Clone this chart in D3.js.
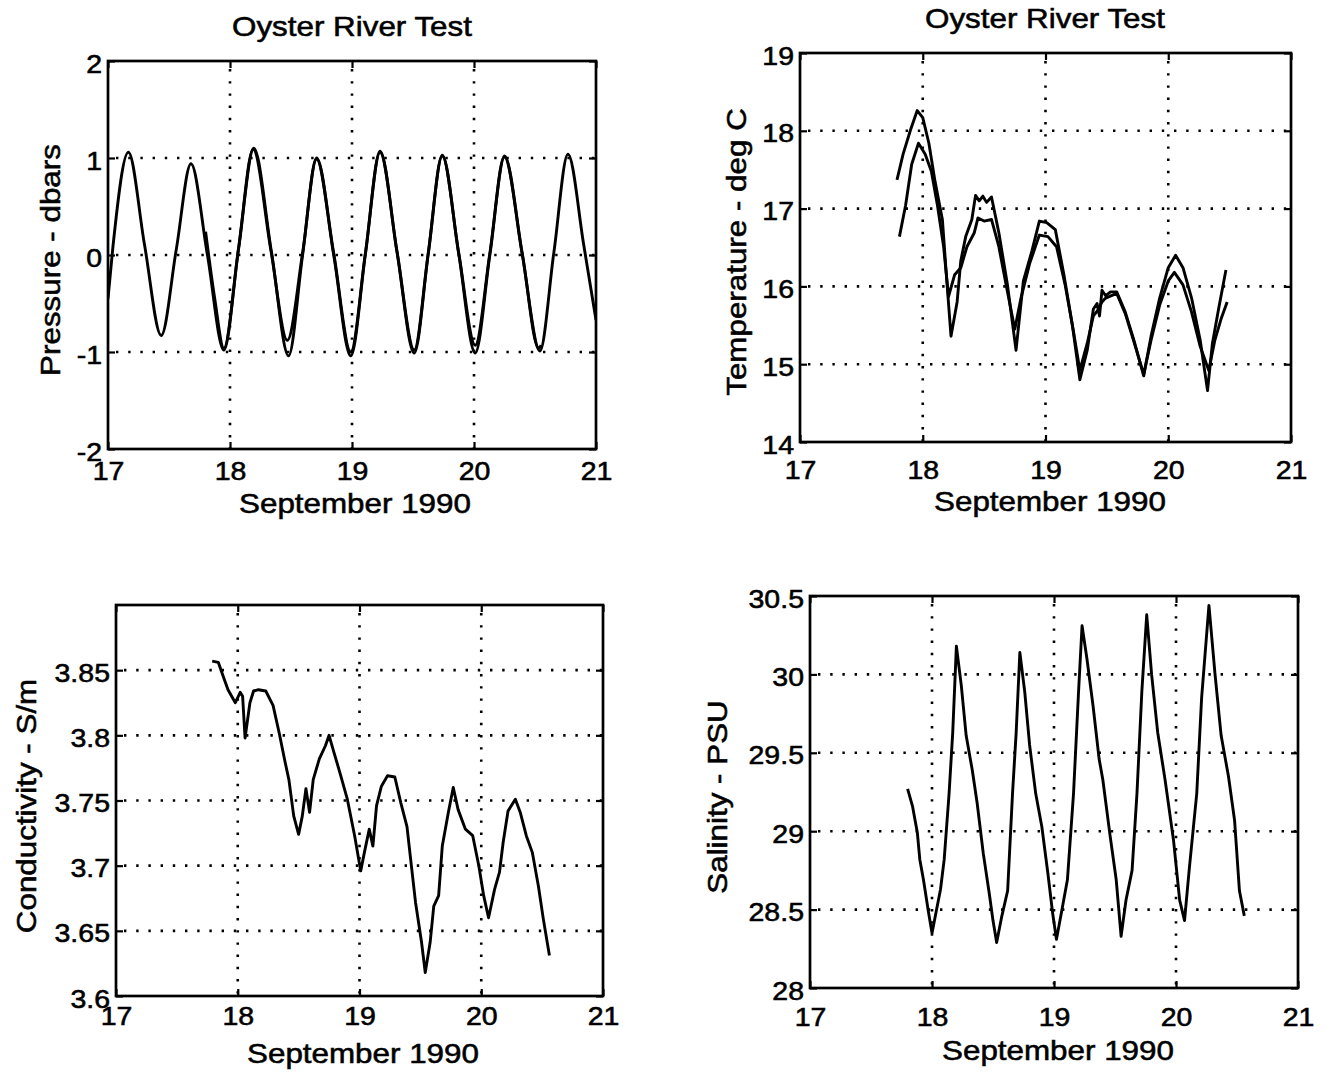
<!DOCTYPE html>
<html><head><meta charset="utf-8">
<script src="https://cdn.jsdelivr.net/npm/d3@7"></script>
<style>html,body{margin:0;padding:0;background:#fff}svg{display:block}</style>
</head><body>
<svg id="chart" width="1326" height="1078"></svg>
<script>
// ---------------- DATA ----------------
const dayTicks = [17, 18, 19, 20, 21];
const dayTickLabels = ["17", "18", "19", "20", "21"];
const xAxisLabel = "September 1990";
const titleText = "Oyster River Test";

const pressureTicks = [-2, -1, 0, 1, 2];
const pressureTickLabels = ["-2", "-1", "0", "1", "2"];
const temperatureTicks = [14, 15, 16, 17, 18, 19];
const temperatureTickLabels = ["14", "15", "16", "17", "18", "19"];
const conductivityTicks = [3.6, 3.65, 3.7, 3.75, 3.8, 3.85];
const conductivityTickLabels = ["3.6", "3.65", "3.7", "3.75", "3.8", "3.85"];
const salinityTicks = [28, 28.5, 29, 29.5, 30, 30.5];
const salinityTickLabels = ["28", "28.5", "29", "29.5", "30", "30.5"];

// [day of September 1990, value]
const pressureA = [[17.00,-0.45],[17.04,0.08],[17.167,1.06],[17.30,0.10],[17.436,-0.83],[17.56,0.06],[17.68,0.94],[17.815,0.0],[17.95,-0.98],[18.07,0.06],[18.195,1.10],[18.34,0.03],[18.48,-1.04],[18.595,0.0],[18.71,0.99],[18.85,0.0],[18.99,-1.04],[19.11,0.01],[19.23,1.06],[19.37,0.02],[19.51,-1.01],[19.625,0.01],[19.74,1.02],[19.875,0.01],[20.01,-1.01],[20.13,0.0],[20.25,1.01],[20.395,0.01],[20.54,-0.99],[20.655,0.03],[20.77,1.04],[20.90,0.10],[21.0,-0.67]];
const pressureB = [[17.80,0.24],[17.875,-0.45],[17.95,-0.96],[18.07,0.07],[18.19,1.09],[18.335,0.05],[18.47,-0.88],[18.595,0.02],[18.71,1.00],[18.85,0.02],[18.99,-1.00],[19.11,0.02],[19.23,1.07],[19.37,0.03],[19.51,-0.98],[19.625,0.02],[19.74,1.03],[19.875,0.02],[20.01,-0.93],[20.13,0.02],[20.25,1.02],[20.395,0.02],[20.53,-0.96],[20.55,-0.93]];

const temperatureA = [[17.79,17.37],[17.84,17.70],[17.90,18.01],[17.955,18.26],[18.0,18.17],[18.05,17.84],[18.10,17.35],[18.16,16.86],[18.19,16.20],[18.23,15.36],[18.28,15.80],[18.31,16.33],[18.35,16.64],[18.40,16.86],[18.43,17.17],[18.46,17.10],[18.49,17.16],[18.52,17.08],[18.56,17.15],[18.62,16.69],[18.69,16.02],[18.76,15.18],[18.82,16.07],[18.89,16.46],[18.95,16.84],[19.01,16.82],[19.08,16.73],[19.15,16.15],[19.22,15.49],[19.28,14.80],[19.34,15.18],[19.39,15.71],[19.42,15.78],[19.44,15.62],[19.46,15.95],[19.49,15.88],[19.53,15.93],[19.58,15.93],[19.65,15.67],[19.72,15.31],[19.80,14.85],[19.86,15.36],[19.93,15.85],[20.0,16.24],[20.06,16.40],[20.12,16.24],[20.19,15.85],[20.26,15.31],[20.32,14.66],[20.36,15.27],[20.41,15.71],[20.47,16.21]];
const temperatureB = [[17.81,16.64],[17.86,17.04],[17.91,17.57],[17.965,17.84],[18.02,17.70],[18.07,17.48],[18.12,17.04],[18.17,16.51],[18.21,15.87],[18.26,16.15],[18.31,16.24],[18.36,16.51],[18.42,16.69],[18.45,16.88],[18.50,16.84],[18.56,16.86],[18.62,16.51],[18.69,15.93],[18.75,15.45],[18.80,15.85],[18.87,16.29],[18.95,16.66],[19.02,16.64],[19.09,16.51],[19.16,16.02],[19.23,15.40],[19.28,14.92],[19.34,15.27],[19.39,15.62],[19.43,15.70],[19.46,15.80],[19.49,15.85],[19.58,15.91],[19.65,15.65],[19.72,15.29],[19.80,14.87],[19.86,15.31],[19.93,15.76],[20.0,16.07],[20.05,16.18],[20.12,16.02],[20.19,15.67],[20.26,15.23],[20.33,14.92],[20.38,15.31],[20.43,15.58],[20.48,15.80]];

const conductivity = [[17.79,3.857],[17.84,3.856],[17.87,3.848],[17.92,3.835],[17.98,3.825],[18.02,3.833],[18.04,3.830],[18.06,3.798],[18.10,3.825],[18.13,3.834],[18.17,3.835],[18.23,3.834],[18.29,3.823],[18.34,3.802],[18.39,3.779],[18.42,3.766],[18.46,3.738],[18.50,3.724],[18.53,3.738],[18.56,3.759],[18.59,3.741],[18.62,3.766],[18.67,3.782],[18.72,3.792],[18.75,3.800],[18.79,3.787],[18.84,3.771],[18.90,3.751],[18.96,3.723],[19.01,3.696],[19.04,3.710],[19.08,3.728],[19.11,3.715],[19.14,3.746],[19.18,3.761],[19.23,3.769],[19.29,3.768],[19.34,3.748],[19.39,3.730],[19.42,3.705],[19.46,3.672],[19.51,3.641],[19.54,3.618],[19.58,3.641],[19.61,3.669],[19.65,3.677],[19.68,3.715],[19.73,3.741],[19.77,3.760],[19.81,3.743],[19.87,3.728],[19.93,3.723],[19.98,3.700],[20.02,3.677],[20.06,3.660],[20.11,3.682],[20.15,3.695],[20.18,3.718],[20.22,3.742],[20.28,3.751],[20.32,3.741],[20.37,3.723],[20.42,3.710],[20.47,3.684],[20.51,3.659],[20.56,3.631]];

const salinity = [[17.80,29.27],[17.84,29.16],[17.88,28.99],[17.90,28.82],[17.93,28.69],[17.97,28.49],[18.0,28.35],[18.03,28.47],[18.07,28.63],[18.10,28.82],[18.14,29.24],[18.17,29.63],[18.20,30.18],[18.24,29.93],[18.28,29.61],[18.33,29.39],[18.37,29.18],[18.42,28.86],[18.47,28.60],[18.50,28.43],[18.53,28.29],[18.57,28.45],[18.62,28.62],[18.66,29.24],[18.69,29.63],[18.72,30.14],[18.76,29.89],[18.80,29.55],[18.85,29.24],[18.90,29.03],[18.95,28.73],[18.99,28.47],[19.02,28.31],[19.07,28.52],[19.11,28.69],[19.16,29.24],[19.20,29.87],[19.23,30.31],[19.27,30.10],[19.32,29.80],[19.37,29.46],[19.40,29.33],[19.46,28.97],[19.51,28.69],[19.55,28.33],[19.59,28.56],[19.64,28.75],[19.68,29.24],[19.72,29.89],[19.76,30.38],[19.80,30.00],[19.85,29.63],[19.91,29.33],[19.98,28.94],[20.03,28.56],[20.07,28.43],[20.11,28.77],[20.17,29.24],[20.21,29.85],[20.27,30.44],[20.32,30.00],[20.37,29.61],[20.43,29.35],[20.48,29.07],[20.52,28.62],[20.56,28.46]];

// ---------------- LAYOUT / STYLE ----------------
const FONT = "'Liberation Sans', Arial, Helvetica, sans-serif";
const TICK_FS = 25, TICK_STRETCH = 1.14;
const LABEL_FS = 28, LABEL_STRETCH = 1.12;
const TEXT_STROKE = 0.55;

const svg = d3.select("#chart");

function stretch(sel, f) {
  sel.each(function () {
    const l = this.getComputedTextLength();
    this.setAttribute("textLength", l * f);
    this.setAttribute("lengthAdjust", "spacingAndGlyphs");
  });
}

const panels = [
  { box: {x0:108, x1:596, y0:61, y1:449}, yDomain: [-2, 2], yTicks: pressureTicks, yLabels: pressureTickLabels,
    series: [pressureA, pressureB], curve: d3.curveMonotoneX, ylabel: "Pressure - dbars",
    title: true, titlePos: [352, 36], ylabelPos: [60, 260], xlabelPos: [355, 513], xPad: 13 },
  { box: {x0:800, x1:1291, y0:53, y1:442}, yDomain: [14, 19], yTicks: temperatureTicks, yLabels: temperatureTickLabels,
    series: [temperatureA, temperatureB], curve: d3.curveLinear, ylabel: "Temperature - deg C",
    title: true, titlePos: [1045, 28], ylabelPos: [746, 252], xlabelPos: [1050, 511], xPad: 19 },
  { box: {x0:116, x1:603, y0:605, y1:996}, yDomain: [3.6, 3.9], yTicks: conductivityTicks, yLabels: conductivityTickLabels,
    series: [conductivity], curve: d3.curveLinear, ylabel: "Conductivity - S/m",
    title: false, ylabelPos: [36, 806], xlabelPos: [363, 1063], xPad: 11 },
  { box: {x0:810, x1:1298, y0:596, y1:988}, yDomain: [28, 30.5], yTicks: salinityTicks, yLabels: salinityTickLabels,
    series: [salinity], curve: d3.curveLinear, ylabel: "Salinity - PSU",
    title: false, ylabelPos: [727, 797], xlabelPos: [1058, 1060], xPad: 20 }
];

panels.forEach((p, pi) => {
  const b = p.box;
  const g = svg.append("g");
  const x = d3.scaleLinear().domain([17, 21]).range([b.x0, b.x1]);
  const y = d3.scaleLinear().domain(p.yDomain).range([b.y1, b.y0]);

  const clipId = "clip" + pi;
  g.append("clipPath").attr("id", clipId).append("rect")
    .attr("x", b.x0).attr("y", b.y0).attr("width", b.x1 - b.x0).attr("height", b.y1 - b.y0);

  // grid
  const grid = g.append("g").attr("stroke", "#000").attr("stroke-width", 2.6)
    .attr("stroke-dasharray", "2.4 9.8").attr("stroke-linecap", "butt");
  grid.selectAll(".vg").data(dayTicks.filter(d => d > 17 && d < 21)).join("line")
    .attr("x1", d => x(d)).attr("x2", d => x(d)).attr("y1", b.y0 + 8).attr("y2", b.y1);
  grid.selectAll(".hg").data(p.yTicks.filter(d => d > p.yDomain[0] + 1e-9 && d < p.yDomain[1] - 1e-9)).join("line")
    .attr("y1", d => y(d)).attr("y2", d => y(d)).attr("x1", b.x0 + 8).attr("x2", b.x1);

  // data lines
  const line = d3.line().x(d => x(d[0])).y(d => y(d[1])).curve(p.curve);
  const lg = g.append("g").attr("clip-path", `url(#${clipId})`);
  p.series.forEach(s => {
    lg.append("path").datum(s).attr("d", line).attr("fill", "none")
      .attr("stroke", "#000").attr("stroke-width", 2.9).attr("stroke-linejoin", "round");
  });

  // axes
  const styleAxis = a => {
    a.select(".domain").remove();
    a.selectAll("line").attr("stroke", "#000").attr("stroke-width", 2.2);
    a.attr("font-family", FONT).attr("font-size", TICK_FS);
    a.selectAll("text").attr("fill", "#000").attr("stroke", "#000").attr("stroke-width", TEXT_STROKE);
  };
  const axB = g.append("g").attr("transform", `translate(0,${b.y1})`)
    .call(d3.axisBottom(x).tickValues(dayTicks).tickFormat((d, i) => dayTickLabels[i])
      .tickSizeInner(-7).tickSizeOuter(0).tickPadding(p.xPad));
  styleAxis(axB);
  const axT = g.append("g").attr("transform", `translate(0,${b.y0})`)
    .call(d3.axisTop(x).tickValues(dayTicks).tickFormat(() => "").tickSizeInner(-7).tickSizeOuter(0));
  styleAxis(axT); axT.selectAll("text").remove();
  const axL = g.append("g").attr("transform", `translate(${b.x0},0)`)
    .call(d3.axisLeft(y).tickValues(p.yTicks).tickFormat((d, i) => p.yLabels[i])
      .tickSizeInner(-7).tickSizeOuter(0).tickPadding(6));
  styleAxis(axL);
  axL.selectAll("text").attr("dy", "0.36em").attr("y", 2);
  const axR = g.append("g").attr("transform", `translate(${b.x1},0)`)
    .call(d3.axisRight(y).tickValues(p.yTicks).tickFormat(() => "").tickSizeInner(-7).tickSizeOuter(0));
  styleAxis(axR); axR.selectAll("text").remove();

  stretch(axB.selectAll("text"), TICK_STRETCH);
  stretch(axL.selectAll("text"), TICK_STRETCH);

  // frame
  g.append("rect").attr("x", b.x0).attr("y", b.y0).attr("width", b.x1 - b.x0).attr("height", b.y1 - b.y0)
    .attr("fill", "none").attr("stroke", "#000").attr("stroke-width", 2.7);

  // labels
  const txt = (t, xx, yy, rot) => {
    const e = g.append("text").text(t).attr("font-family", FONT).attr("font-size", LABEL_FS)
      .attr("text-anchor", "middle").attr("fill", "#000")
      .attr("stroke", "#000").attr("stroke-width", TEXT_STROKE);
    if (rot) e.attr("transform", `translate(${xx},${yy}) rotate(-90)`);
    else e.attr("x", xx).attr("y", yy);
    stretch(e, LABEL_STRETCH);
    return e;
  };
  if (p.title) txt(titleText, p.titlePos[0], p.titlePos[1], false);
  txt(xAxisLabel, p.xlabelPos[0], p.xlabelPos[1], false);
  txt(p.ylabel, p.ylabelPos[0], p.ylabelPos[1], true);
});
</script>
</body></html>
